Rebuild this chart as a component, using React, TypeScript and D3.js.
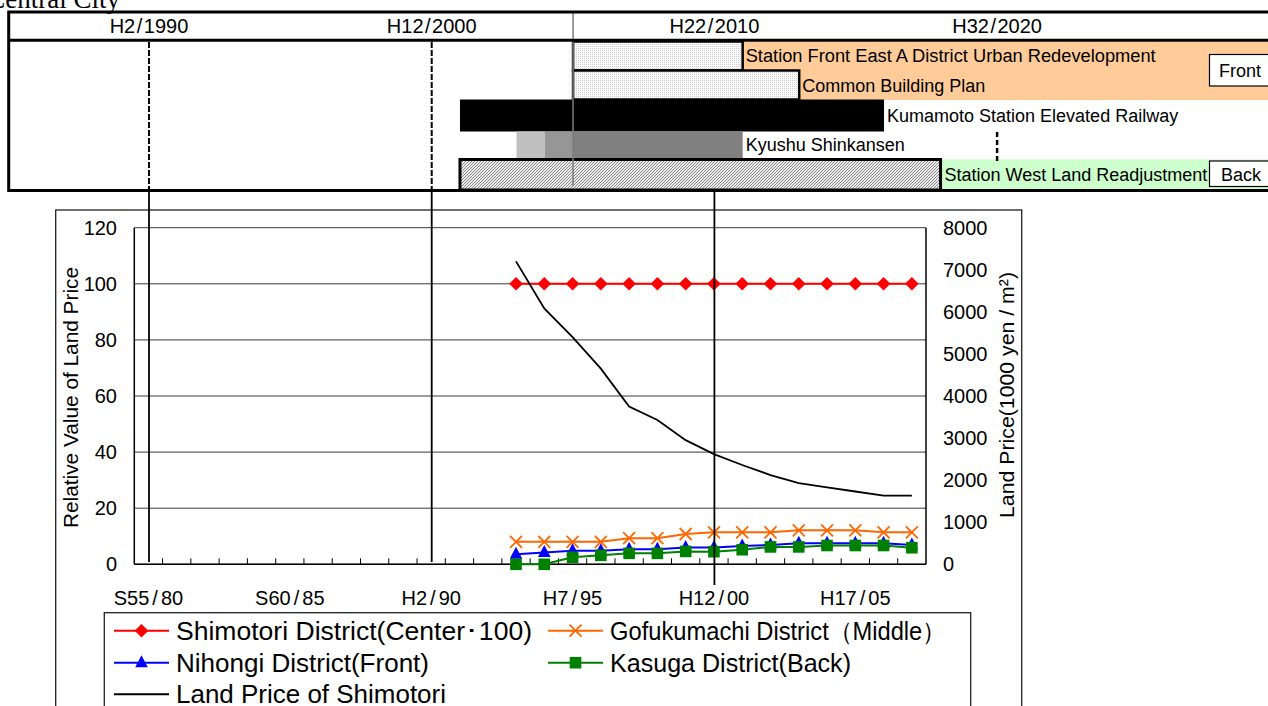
import React from "react";
import * as d3 from "d3";

// ---------- data ----------
const categoryYears = [1980, 1981, 1982, 1983, 1984, 1985, 1986, 1987, 1988, 1989, 1990, 1991, 1992, 1993, 1994, 1995, 1996, 1997, 1998, 1999, 2000, 2001, 2002, 2003, 2004, 2005, 2006, 2007];
const xTickYears = [1980, 1985, 1990, 1995, 2000, 2005];
const xTickLabels = ["S55/80", "S60/85", "H2/90", "H7/95", "H12/00", "H17/05"];
const dataYears = [1993, 1994, 1995, 1996, 1997, 1998, 1999, 2000, 2001, 2002, 2003, 2004, 2005, 2006, 2007];
const shimotori = [100, 100, 100, 100, 100, 100, 100, 100, 100, 100, 100, 100, 100, 100, 100];
const gofukumachi = [8.0, 8.0, 8.0, 8.0, 9.3, 9.3, 10.8, 11.4, 11.4, 11.4, 12.1, 12.1, 12.1, 11.4, 11.4];
const nihongi = [3.6, 4.2, 4.8, 4.8, 5.4, 5.4, 6.0, 6.0, 6.5, 6.9, 7.5, 7.5, 7.5, 7.5, 6.9];
const kasuga = [0, 0, 2.5, 3.2, 3.9, 3.9, 4.6, 4.5, 5.2, 6.2, 6.2, 6.7, 6.7, 6.7, 5.9];
const landPrice = [7200, 6080, 5400, 4650, 3750, 3430, 2950, 2620, 2360, 2120, 1930, 1830, 1730, 1630, 1630];
const leftTicks = [0, 20, 40, 60, 80, 100, 120];
const rightTicks = [0, 1000, 2000, 3000, 4000, 5000, 6000, 7000, 8000];

const timelineYears = [1990, 2000, 2010, 2020];
const timelineLabels = ["H2/1990", "H12/2000", "H22/2010", "H32/2020"];
const linkTimelineYears = [1990, 2000, 2010];
const nowYear = 2005;

const projectNames = [
  "Station Front East A District Urban Redevelopment",
  "Common Building Plan",
  "Kumamoto Station Elevated Railway",
  "Kyushu Shinkansen",
  "Station West Land Readjustment",
];
const projectStarts = [2005, 2005, 2001, 2003, 2001];
const projectEnds = [2011, 2013, 2016, 2011, 2018];
const shinkansenPhases = [2003, 2004, 2005, 2011];

const legendNames = [
  "Shimotori District(Center･100)",
  "Gofukumachi District（Middle）",
  "Nihongi District(Front)",
  "Kasuga District(Back)",
  "Land Price of Shimotori",
];

// ---------- layout ----------
const W = 1268;
const H = 706;
const FONT = "'Liberation Sans', Arial, sans-serif";
const plot = { left: 134.3, right: 926, top: 227.7, bottom: 564.3 };
const rowTops = [41.5, 70.5, 99.5, 131.5, 159.5, 190];

function SlashText(props: { x: number; y: number; label: string; size: number; anchor?: string; gap?: number }) {
  const [a, b] = props.label.split("/");
  const g = props.gap ?? 2;
  return (
    <text x={props.x} y={props.y} fontSize={props.size} textAnchor={props.anchor ?? "middle"} fontFamily={FONT} fill="#000">
      {a}
      <tspan dx={g}>/</tspan>
      <tspan dx={g}>{b}</tspan>
    </text>
  );
}

function Marker({ type, x, y }: { type: string; x: number; y: number }) {
  if (type === "diamond") {
    const s = 6.8;
    return <path d={`M${x},${y - s}L${x + s},${y}L${x},${y + s}L${x - s},${y}Z`} fill="#FF0000" />;
  }
  if (type === "x") {
    const s = 6;
    return <path d={`M${x - s},${y - s}L${x + s},${y + s}M${x - s},${y + s}L${x + s},${y - s}`} stroke="#FF6600" strokeWidth={1.8} fill="none" />;
  }
  if (type === "triangle") {
    return <path d={`M${x},${y - 7.5}L${x + 6.3},${y + 4.5}L${x - 6.3},${y + 4.5}Z`} fill="#0000FF" />;
  }
  if (type === "square") {
    return <rect x={x - 5.8} y={y - 5.8} width={11.6} height={11.6} fill="#008000" />;
  }
  return null;
}

export default function App() {
  const x = d3.scaleBand<number>().domain(categoryYears).range([plot.left, plot.right]).paddingInner(0).paddingOuter(0);
  const xc = (yr: number) => (x(yr) as number) + x.bandwidth() / 2;
  const yL = d3.scaleLinear().domain([0, 120]).range([plot.bottom, plot.top]);
  const yR = d3.scaleLinear().domain([0, 8000]).range([plot.bottom, plot.top]);
  const tx = d3.scaleLinear().domain([1990, 2020]).range([149, 997.1]);

  const lineL = d3.line<number>().x((_, i) => xc(dataYears[i])).y((d) => yL(d));
  const lineR = d3.line<number>().x((_, i) => xc(dataYears[i])).y((d) => yR(d));

  const series = [
    { vals: shimotori, color: "#FF0000", marker: "diamond" },
    { vals: gofukumachi, color: "#FF6600", marker: "x" },
    { vals: nihongi, color: "#0000FF", marker: "triangle" },
    { vals: kasuga, color: "#008000", marker: "square" },
  ];

  const boundaries = categoryYears.slice(1).map((yr) => x(yr) as number);

  const legendItems = [
    { name: legendNames[0], color: "#FF0000", marker: "diamond", col: 0, row: 0, w: 356 },
    { name: legendNames[1], color: "#FF6600", marker: "x", col: 1, row: 0, w: 336 },
    { name: legendNames[2], color: "#0000FF", marker: "triangle", col: 0, row: 1, w: 253 },
    { name: legendNames[3], color: "#008000", marker: "square", col: 1, row: 1, w: 241 },
    { name: legendNames[4], color: "#000000", marker: "", col: 0, row: 2, w: 270 },
  ];
  const legCols = [114, 548];
  const legRows = [630.7, 662.7, 694.2];

  return (
    <div style={{ position: "absolute", left: 0, top: 0 }}>
      <svg width={W} height={H} style={{ display: "block", background: "#fff" }}>
        <defs>
          <pattern id="dots" patternUnits="userSpaceOnUse" width={2} height={2}>
            <rect width={2} height={2} fill="#FAFAFA" />
            <rect width={1} height={1} fill="#CFCFCF" />
          </pattern>
          <pattern id="hatch" patternUnits="userSpaceOnUse" width={3} height={3}>
            <rect width={3} height={3} fill="#EDEDED" />
            <path d="M-1,1L1,-1M0,3L3,0M2,4L4,2" stroke="#7A7A7A" strokeWidth={0.9} />
          </pattern>
        </defs>

        {/* title (cut off at top-left, as in the source) */}
        <text x={120} y={8} textAnchor="end" fontFamily="'Liberation Serif', 'Times New Roman', serif" fontSize={27} fill="#000">
          Central City
        </text>

        {/* ---------- timeline ---------- */}
        <rect x={tx(projectEnds[0])} y={rowTops[0]} width={W - tx(projectEnds[0]) + 10} height={rowTops[2] - rowTops[0] + 0.5} fill="#FFCC99" />
        <rect x={tx(projectEnds[4])} y={rowTops[4]} width={W - tx(projectEnds[4]) + 10} height={rowTops[5] - rowTops[4]} fill="#CCFFCC" />

        <rect x={tx(projectStarts[0])} y={rowTops[0]} width={tx(projectEnds[0]) - tx(projectStarts[0])} height={rowTops[1] - rowTops[0]} fill="url(#dots)" stroke="#000" strokeWidth={2.5} />
        <rect x={tx(projectStarts[1])} y={rowTops[1]} width={tx(projectEnds[1]) - tx(projectStarts[1])} height={rowTops[2] - rowTops[1]} fill="url(#dots)" stroke="#000" strokeWidth={2.5} />
        <rect x={tx(projectStarts[2])} y={rowTops[2]} width={tx(projectEnds[2]) - tx(projectStarts[2])} height={rowTops[3] - rowTops[2]} fill="#000" />
        {["#C0C0C0", "#969696", "#808080"].map((c, i) => (
          <rect key={c} x={tx(shinkansenPhases[i])} y={rowTops[3]} width={tx(shinkansenPhases[i + 1]) - tx(shinkansenPhases[i])} height={rowTops[4] - rowTops[3] - 1} fill={c} />
        ))}
        <rect x={tx(projectStarts[4])} y={rowTops[4]} width={tx(projectEnds[4]) - tx(projectStarts[4])} height={rowTops[5] - rowTops[4]} fill="url(#hatch)" stroke="#000" strokeWidth={3} />

        <rect x={1209.5} y={54.5} width={70} height={31.5} fill="#fff" stroke="#000" strokeWidth={1.2} />
        <text x={1219} y={76.5} fontFamily={FONT} fontSize={18}>Front</text>
        <rect x={1209.5} y={161} width={70} height={25.5} fill="#fff" stroke="#000" strokeWidth={1.2} />
        <text x={1221} y={180.5} fontFamily={FONT} fontSize={18}>Back</text>

        <text x={tx(projectEnds[0]) + 3} y={61.7} fontFamily={FONT} fontSize={18} textLength={410} lengthAdjust="spacingAndGlyphs">{projectNames[0]}</text>
        <text x={tx(projectEnds[1]) + 3} y={91.7} fontFamily={FONT} fontSize={18}>{projectNames[1]}</text>
        <text x={tx(projectEnds[2]) + 3} y={121.7} fontFamily={FONT} fontSize={18}>{projectNames[2]}</text>
        <text x={tx(projectEnds[3]) + 3} y={150.5} fontFamily={FONT} fontSize={18}>{projectNames[3]}</text>
        <text x={tx(projectEnds[4]) + 4} y={180.5} fontFamily={FONT} fontSize={18}>{projectNames[4]}</text>

        <line x1={tx(nowYear)} x2={tx(nowYear)} y1={12} y2={186} stroke="#7A7A7A" strokeWidth={1.5} />
        <line x1={tx(2020)} x2={tx(2020)} y1={132} y2={162} stroke="#000" strokeWidth={2.5} strokeDasharray="5,3" />

        {linkTimelineYears.slice(0, 2).map((yr) => (
          <line key={yr} x1={tx(yr)} x2={tx(yr)} y1={42} y2={190} stroke="#000" strokeWidth={2} strokeDasharray="6,2" />
        ))}

        <rect x={8.7} y={12} width={W + 20} height={178.5} fill="none" stroke="#000" strokeWidth={3} />
        <line x1={8.7} x2={W + 10} y1={40.3} y2={40.3} stroke="#000" strokeWidth={3} />
        {timelineYears.map((yr, i) => (
          <SlashText key={yr} x={tx(yr)} y={33} label={timelineLabels[i]} size={20} gap={1.5} />
        ))}

        {/* ---------- chart ---------- */}
        <rect x={55.7} y={210} width={966} height={520} fill="none" stroke="#222" strokeWidth={1.3} />

        {leftTicks.map((t) => (
          <line key={t} x1={plot.left} x2={plot.right} y1={yL(t)} y2={yL(t)} stroke="#3A3A3A" strokeWidth={1} />
        ))}
        <line x1={plot.left} x2={plot.left} y1={plot.top} y2={plot.bottom} stroke="#000" strokeWidth={1.5} />
        <line x1={plot.right} x2={plot.right} y1={plot.top} y2={plot.bottom} stroke="#000" strokeWidth={1.5} />
        <line x1={plot.left} x2={plot.right} y1={plot.bottom} y2={plot.bottom} stroke="#000" strokeWidth={1.5} />
        {boundaries.map((bx, i) => (
          <line key={i} x1={bx} x2={bx} y1={plot.bottom - 6} y2={plot.bottom} stroke="#000" strokeWidth={1} />
        ))}

        {leftTicks.map((t) => (
          <text key={t} x={117} y={yL(t) + 7} textAnchor="end" fontFamily={FONT} fontSize={20}>{t}</text>
        ))}
        {rightTicks.map((t) => (
          <text key={t} x={943} y={yR(t) + 7} textAnchor="start" fontFamily={FONT} fontSize={20}>{t}</text>
        ))}
        {xTickYears.map((yr, i) => (
          <SlashText key={yr} x={xc(yr)} y={605} label={xTickLabels[i]} size={20} gap={3} />
        ))}

        <text transform={`translate(78,397.5) rotate(-90)`} textAnchor="middle" fontFamily={FONT} fontSize={20.5} textLength={261} lengthAdjust="spacingAndGlyphs">
          Relative Value of Land Price
        </text>
        <text transform={`translate(1014,395) rotate(-90)`} textAnchor="middle" fontFamily={FONT} fontSize={20} textLength={246} lengthAdjust="spacingAndGlyphs">
          Land Price(1000 yen / m²)
        </text>

        {series.map((s, si) => (
          <g key={si}>
            <path d={lineL(s.vals) || ""} fill="none" stroke={s.color} strokeWidth={2} />
            {s.vals.map((v, i) => (
              <Marker key={i} type={s.marker} x={xc(dataYears[i])} y={yL(v)} />
            ))}
          </g>
        ))}
        <path d={lineR(landPrice) || ""} fill="none" stroke="#000" strokeWidth={1.8} />

        {linkTimelineYears.map((yr, i) => (
          <line key={yr} x1={tx(yr)} x2={tx(yr)} y1={190} y2={i < 2 ? 562 : 585} stroke="#000" strokeWidth={1.8} />
        ))}

        <rect x={104.3} y={612.7} width={866.4} height={120} fill="#fff" stroke="#222" strokeWidth={1.3} />
        {legendItems.map((it) => {
          const lx = legCols[it.col];
          const ly = legRows[it.row];
          return (
            <g key={it.name}>
              <line x1={lx} x2={lx + 55} y1={ly} y2={ly} stroke={it.color} strokeWidth={2} />
              {it.marker && <Marker type={it.marker} x={lx + 27.5} y={ly} />}
              <text x={lx + 62} y={ly + 9} fontFamily={FONT} fontSize={25} textLength={it.w} lengthAdjust="spacingAndGlyphs">
                {it.name}
              </text>
            </g>
          );
        })}
      </svg>
    </div>
  );
}
